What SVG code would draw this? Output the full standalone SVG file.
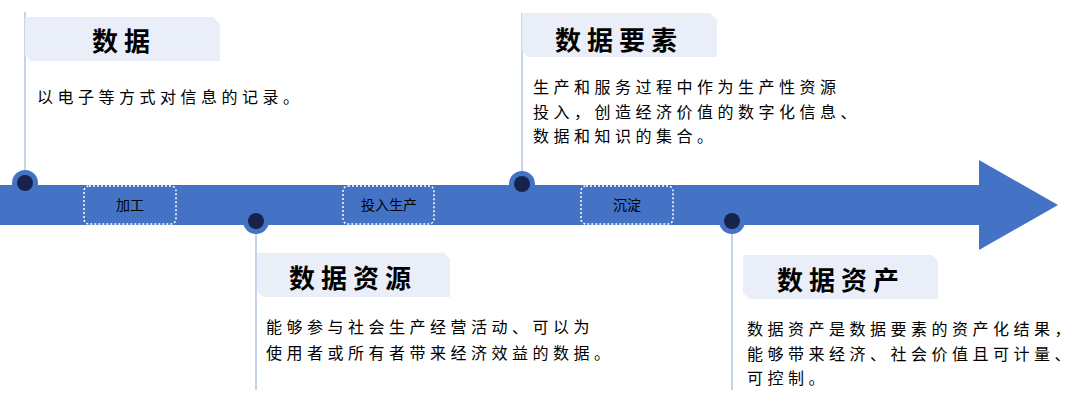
<svg xmlns="http://www.w3.org/2000/svg" width="1080" height="417" viewBox="0 0 1080 417">
<style>
.vline{stroke:#b4c4e2;stroke-width:1.5;fill:none}
.tbox{fill:#e9eef8}
.title{font-family:"Noto Sans CJK SC","Noto Sans CJK JP",sans-serif;font-size:26px;font-weight:bold;letter-spacing:6px;fill:#000}
.body{font-family:"Noto Sans CJK SC","Noto Sans CJK JP",sans-serif;font-size:16px;letter-spacing:4.5px;fill:#000}
.lbl{font-family:"Noto Sans CJK SC","Noto Sans CJK JP",sans-serif;font-size:14px;fill:#000;text-anchor:middle}
.lbox{fill:none;stroke:#ffffff;stroke-width:1.5;stroke-dasharray:2 2}
.outer{fill:#4472c4}
.inner{fill:#17234a}
</style>
<rect width="1080" height="417" fill="#ffffff"/>
<g id="connectors">
<line class="vline" x1="25" y1="12" x2="25" y2="183"/>
<line class="vline" x1="256" y1="221" x2="256" y2="390"/>
<line class="vline" x1="522" y1="13" x2="522" y2="184"/>
<line class="vline" x1="732" y1="221" x2="732" y2="390"/>
</g>
<g id="timeline-arrow">
<polygon points="0,185 979,185 979,160 1058,205 979,250 979,225 0,225" fill="#4472c4"/>
</g>
<g id="step-jiagong">
<rect class="lbox" x="84" y="186" width="92" height="38" rx="5"/>
<text class="lbl" x="130" y="210">加工</text>
</g>
<g id="step-touru">
<rect class="lbox" x="343" y="186" width="91" height="38" rx="5"/>
<text class="lbl" x="389" y="210">投入生产</text>
</g>
<g id="step-chendian">
<rect class="lbox" x="581" y="186" width="92" height="38" rx="5"/>
<text class="lbl" x="627" y="210">沉淀</text>
</g>
<g id="node-shuju">
<circle class="outer" cx="25" cy="183" r="13"/>
<circle class="inner" cx="25" cy="183" r="8"/>
<polygon class="tbox" points="25,17 213,17 220,24 220,61 31,61 25,55"/>
<text class="title" x="92" y="51">数据</text>
<text class="body" x="37" y="103">以电子等方式对信息的记录。</text>
</g>
<g id="node-ziyuan">
<circle class="outer" cx="256" cy="221" r="13"/>
<circle class="inner" cx="256" cy="221" r="8"/>
<polygon class="tbox" points="257,253 444,253 450,259 450,297 263,297 257,291"/>
<text class="title" x="289" y="288">数据资源</text>
<text class="body" x="266" y="333">能够参与社会生产经营活动、可以为</text>
<text class="body" x="266" y="359">使用者或所有者带来经济效益的数据。</text>
</g>
<g id="node-yaosu">
<circle class="outer" cx="522" cy="184" r="13"/>
<circle class="inner" cx="522" cy="184" r="8"/>
<polygon class="tbox" points="522,13 710,13 717,20 717,57 528,57 522,51"/>
<text class="title" x="555" y="50">数据要素</text>
<text class="body" x="533" y="93">生产和服务过程中作为生产性资源</text>
<text class="body" x="533" y="118">投入，创造经济价值的数字化信息、</text>
<text class="body" x="533" y="142">数据和知识的集合。</text>
</g>
<g id="node-zichan">
<circle class="outer" cx="732" cy="221" r="13"/>
<circle class="inner" cx="732" cy="221" r="8"/>
<polygon class="tbox" points="743,255 932,255 938,261 938,299 749,299 743,293"/>
<text class="title" x="777" y="290">数据资产</text>
<text class="body" x="747" y="335">数据资产是数据要素的资产化结果，</text>
<text class="body" x="747" y="360">能够带来经济、社会价值且可计量、</text>
<text class="body" x="747" y="384">可控制。</text>
</g>
</svg>
